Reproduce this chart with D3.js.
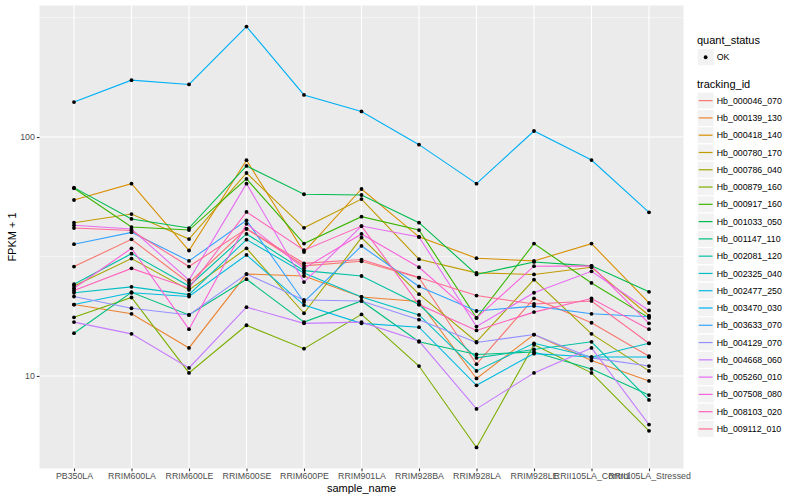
<!DOCTYPE html>
<html>
<head>
<meta charset="utf-8">
<script src="https://cdn.jsdelivr.net/npm/d3@7"></script>
<style>
  body { margin: 0; background: #ffffff; }
  text { font-family: "Liberation Sans", Arial, sans-serif; }
</style>
</head>
<body>
<div id="paper"></div>
<script>
// fpkm profile per gene, log10 y axis, ggplot grey look

const samples = ["PB350LA", "RRIM600LA", "RRIM600LE", "RRIM600SE", "RRIM600PE",
  "RRIM901LA", "RRIM928BA", "RRIM928LA", "RRIM928LE", "RRII105LA_Control", "RRII105LA_Stressed"];

const trackingIds = ["Hb_000046_070", "Hb_000139_130", "Hb_000418_140", "Hb_000780_170",
  "Hb_000786_040", "Hb_000879_160", "Hb_000917_160", "Hb_001033_050", "Hb_001147_110",
  "Hb_002081_120", "Hb_002325_040", "Hb_002477_250", "Hb_003470_030", "Hb_003633_070",
  "Hb_004129_070", "Hb_004668_060", "Hb_005260_010", "Hb_007508_080", "Hb_008103_020",
  "Hb_009112_010"];

// FPKM + 1, one value per sample
const hb_000046_070 = [28.7, 37.3, 24.5, 41.3, 28.9, 30.2, 25.8, 11.2, 21.1, 16.7, 12.1];
const hb_000139_130 = [19.9, 18.2, 13.1, 26.7, 26.2, 21.4, 20.5, 9.76, 14.9, 11.6, 9.53];
const hb_000418_140 = [54.5, 63.8, 33.5, 80.0, 33.0, 60.6, 38.2, 31.1, 30.3, 35.8, 20.2];
const hb_000780_170 = [43.8, 47.6, 37.4, 70.7, 41.7, 55.0, 30.8, 27.0, 26.6, 28.5, 17.9];
const hb_000786_040 = [23.8, 31.0, 22.9, 34.2, 18.3, 37.9, 22.0, 13.9, 25.3, 15.0, 10.5];
const hb_000879_160 = [17.6, 21.3, 10.3, 16.3, 13.0, 18.1, 11.0, 5.02, 13.5, 10.3, 5.89];
const hb_000917_160 = [61.0, 42.0, 40.8, 66.8, 35.8, 46.4, 40.8, 17.5, 35.8, 24.5, 17.5];
const hb_001033_050 = [61.4, 45.4, 41.6, 75.7, 57.6, 57.2, 43.8, 26.6, 30.0, 28.9, 22.5];
const hb_001147_110 = [15.1, 22.4, 18.0, 25.4, 16.8, 20.6, 13.9, 12.3, 12.6, 10.7, 8.32];
const hb_002081_120 = [24.2, 32.5, 23.8, 39.3, 27.6, 26.2, 19.9, 11.9, 12.9, 13.9, 7.94];
const hb_002325_040 = [22.3, 23.6, 21.9, 37.2, 27.0, 21.4, 18.0, 10.5, 13.7, 12.0, 13.7];
const hb_002477_250 = [19.9, 22.3, 21.5, 32.1, 19.8, 16.6, 16.0, 9.14, 12.4, 12.0, 12.0];
const hb_003470_030 = [140, 173, 166, 290, 150, 128, 92.9, 63.8, 106, 80.1, 48.4];
const hb_003633_070 = [35.6, 39.9, 30.3, 44.8, 20.4, 35.0, 23.7, 18.7, 19.6, 18.2, 17.7];
const hb_004129_070 = [21.5, 19.2, 18.0, 26.7, 20.8, 20.6, 17.2, 13.8, 14.9, 11.9, 11.0];
const hb_004668_060 = [16.8, 15.0, 10.8, 19.4, 16.6, 16.8, 14.0, 7.28, 10.3, 13.1, 6.26];
const hb_005260_010 = [42.7, 41.2, 25.2, 63.8, 24.7, 42.4, 38.2, 16.1, 22.3, 27.4, 18.8];
const hb_007508_080 = [23.3, 34.2, 15.7, 43.3, 28.2, 39.3, 28.5, 17.5, 28.8, 28.9, 16.6];
const hb_008103_020 = [22.8, 28.2, 23.3, 48.6, 33.6, 42.4, 19.9, 15.5, 18.5, 21.1, 15.7];
const hb_009112_010 = [41.6, 40.6, 28.7, 41.3, 29.6, 30.7, 25.8, 21.7, 20.0, 20.6, 13.7];

const quantStatus = ["OK"];
const yMajor = [10, 100];
const yMinor = [31.6, 316];

const seriesValues = [hb_000046_070, hb_000139_130, hb_000418_140, hb_000780_170,
  hb_000786_040, hb_000879_160, hb_000917_160, hb_001033_050, hb_001147_110,
  hb_002081_120, hb_002325_040, hb_002477_250, hb_003470_030, hb_003633_070,
  hb_004129_070, hb_004668_060, hb_005260_010, hb_007508_080, hb_008103_020,
  hb_009112_010];

// default ggplot hue palette for 20 levels
const palette = ["#F8766D", "#EA8331", "#D89000", "#C09B00", "#A3A500", "#7CAE00",
  "#39B600", "#00BB4E", "#00BF7D", "#00C1A3", "#00BFC4", "#00BAE0", "#00B0F6",
  "#35A2FF", "#9590FF", "#C77CFF", "#E76BF3", "#FA62DB", "#FF62BC", "#FF6C91"];

const series = trackingIds.map((id, i) => ({
  id: id,
  values: seriesValues[i].map((v, j) => ({ sample: samples[j], value: v }))
}));

const width = 800, height = 500;
const panel = { left: 39.5, right: 683.5, top: 5.5, bottom: 468.5 };

const svg = d3.select("#paper").append("svg")
  .attr("width", width).attr("height", height)
  .style("background-color", "#ffffff");

const x = d3.scalePoint().domain(samples)
  .range([panel.left, panel.right]).padding(0.6);

// 5% expansion in log space like ggplot
const all = seriesValues.flat();
const lo = Math.log10(d3.min(all)), hi = Math.log10(d3.max(all));
const pad = (hi - lo) * 0.05;
const y = d3.scaleLog().domain([Math.pow(10, lo - pad), Math.pow(10, hi + pad)])
  .range([panel.bottom, panel.top]);

const colour = d3.scaleOrdinal().domain(trackingIds).range(palette);

// panel background + grid
svg.append("rect")
  .attr("x", panel.left).attr("y", panel.top)
  .attr("width", panel.right - panel.left).attr("height", panel.bottom - panel.top)
  .attr("fill", "#EBEBEB");

const grid = svg.append("g");
grid.selectAll(".minor").data(yMinor).join("line")
  .attr("x1", panel.left).attr("x2", panel.right)
  .attr("y1", d => y(d)).attr("y2", d => y(d))
  .attr("stroke", "#ffffff").attr("stroke-width", 0.55);
grid.selectAll(".major").data(yMajor).join("line")
  .attr("x1", panel.left).attr("x2", panel.right)
  .attr("y1", d => y(d)).attr("y2", d => y(d))
  .attr("stroke", "#ffffff").attr("stroke-width", 1.1);
grid.selectAll(".vmajor").data(samples).join("line")
  .attr("x1", d => x(d)).attr("x2", d => x(d))
  .attr("y1", panel.top).attr("y2", panel.bottom)
  .attr("stroke", "#ffffff").attr("stroke-width", 1.1);

// lines then points
const line = d3.line().x(d => x(d.sample)).y(d => y(d.value));

svg.append("g").selectAll("path").data(series).join("path")
  .attr("d", d => line(d.values))
  .attr("fill", "none")
  .attr("stroke", d => colour(d.id))
  .attr("stroke-width", 1.1);

svg.append("g").selectAll("circle")
  .data(series.flatMap(d => d.values))
  .join("circle")
  .attr("cx", d => x(d.sample))
  .attr("cy", d => y(d.value))
  .attr("r", 1.9)
  .attr("fill", "#000000");

// axes
const xAxis = svg.append("g")
  .attr("transform", `translate(0,${panel.bottom})`)
  .call(d3.axisBottom(x).tickSize(2.7).tickPadding(2));
const yAxis = svg.append("g")
  .attr("transform", `translate(${panel.left},0)`)
  .call(d3.axisLeft(y).tickValues(yMajor).tickFormat(d3.format("d")).tickSize(2.7).tickPadding(2));

[xAxis, yAxis].forEach(a => {
  a.select(".domain").remove();
  a.selectAll(".tick line").attr("stroke", "#333333").attr("stroke-width", 1.1);
  a.selectAll(".tick text")
    .attr("fill", "#4D4D4D")
    .style("font-size", "8.8px")
    .style("font-family", "'Liberation Sans', Arial, sans-serif");
});

svg.append("text")
  .attr("x", (panel.left + panel.right) / 2).attr("y", 492)
  .attr("text-anchor", "middle")
  .style("font-size", "11px")
  .text("sample_name");

svg.append("text")
  .attr("transform", `translate(16,${(panel.top + panel.bottom) / 2}) rotate(-90)`)
  .attr("text-anchor", "middle")
  .style("font-size", "11px")
  .text("FPKM + 1");

// legends
const keySize = 17.28;
const legX = 697;

svg.append("text").attr("x", legX).attr("y", 44)
  .style("font-size", "11px").text("quant_status");

const qs = svg.append("g").selectAll("g").data(quantStatus).join("g")
  .attr("transform", (d, i) => `translate(${legX},${48.6 + i * keySize})`);
qs.append("rect").attr("width", keySize).attr("height", keySize)
  .attr("fill", "#F2F2F2").attr("stroke", "#ffffff").attr("stroke-width", 1.2);
qs.append("circle").attr("cx", keySize / 2).attr("cy", keySize / 2).attr("r", 1.9)
  .attr("fill", "#000000");
qs.append("text").attr("x", keySize + 2.5).attr("y", keySize / 2 + 3.1)
  .style("font-size", "8.8px").text(d => d);

svg.append("text").attr("x", legX).attr("y", 88)
  .style("font-size", "11px").text("tracking_id");

const tk = svg.append("g").selectAll("g").data(trackingIds).join("g")
  .attr("transform", (d, i) => `translate(${legX},${92 + i * keySize})`);
tk.append("rect").attr("width", keySize).attr("height", keySize)
  .attr("fill", "#F2F2F2").attr("stroke", "#ffffff").attr("stroke-width", 1.2);
tk.append("line")
  .attr("x1", 1.7).attr("x2", keySize - 1.7)
  .attr("y1", keySize / 2).attr("y2", keySize / 2)
  .attr("stroke", d => colour(d)).attr("stroke-width", 1.2);
tk.append("text").attr("x", keySize + 2.5).attr("y", keySize / 2 + 3.1)
  .style("font-size", "8.8px").text(d => d);
</script>
</body>
</html>
